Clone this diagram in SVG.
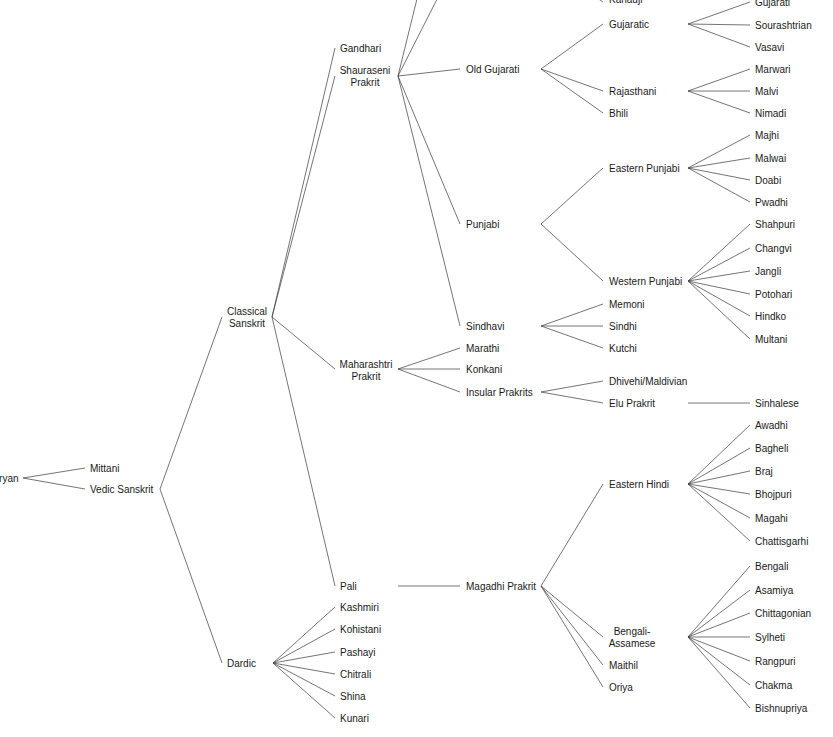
<svg xmlns="http://www.w3.org/2000/svg" width="833" height="737" viewBox="0 0 833 737">
<style>
text{font-family:"Liberation Sans",Arial,sans-serif;font-size:10px;fill:#1a1a1a}
.c text{text-anchor:middle}
#edges path{stroke:#3a3a3a;stroke-width:0.7;fill:none}
</style>
<rect width="833" height="737" fill="#fff"/>
<g id="edges">
<path d="M23 478L85 468M23 478L85 489"/>
<path d="M160 489L222 317M160 489L222 663"/>
<path d="M272 317L335 48M272 317L335 76M272 317L335 369M272 317L335 586"/>
<path d="M273 663L335 607M273 663L335 629M273 663L335 652M273 663L335 674M273 663L335 696M273 663L335 718"/>
<path d="M398 76L460 69M398 76L460 224M398 76L460 326M398 76L460 -176M398 76L460 -46"/>
<path d="M398 369L460 348M398 369L460 369M398 369L460 392"/>
<path d="M398 586L460 586"/>
<path d="M541 69L603 24M541 69L603 91M541 69L603 113M541 -40L603 2"/>
<path d="M541 224L603 168M541 224L603 281"/>
<path d="M541 326L603 304M541 326L603 326M541 326L603 348"/>
<path d="M541 392L603 381M541 392L603 403"/>
<path d="M541 586L603 484M541 586L603 637M541 586L603 665M541 586L603 687"/>
<path d="M688 24L750 2M688 24L750 25M688 24L750 47"/>
<path d="M688 91L750 69M688 91L750 91M688 91L750 113"/>
<path d="M688 168L750 135M688 168L750 158M688 168L750 180M688 168L750 202"/>
<path d="M688 281L750 224M688 281L750 248M688 281L750 271M688 281L750 294M688 281L750 316M688 281L750 339"/>
<path d="M688 403L750 403"/>
<path d="M688 484L750 425M688 484L750 448M688 484L750 471M688 484L750 494M688 484L750 518M688 484L750 541"/>
<path d="M688 637L750 566M688 637L750 590M688 637L750 613M688 637L750 637M688 637L750 661M688 637L750 685M688 637L750 708"/>
</g>
<g id="n-aryan"><text x="18.5" y="482" text-anchor="end">ryan</text></g>
<g id="n-mittani"><text x="90" y="472">Mittani</text></g>
<g id="n-vedic"><text x="90" y="493">Vedic Sanskrit</text></g>
<g id="n-classical" class="c"><text x="247" y="315">Classical</text><text x="247" y="327">Sanskrit</text></g>
<g id="n-dardic"><text x="227" y="667">Dardic</text></g>
<g id="n-gandhari"><text x="340" y="52">Gandhari</text></g>
<g id="n-shauraseni" class="c"><text x="365" y="74">Shauraseni</text><text x="365" y="86">Prakrit</text></g>
<g id="n-maharashtri" class="c"><text x="366" y="368">Maharashtri</text><text x="366" y="380">Prakrit</text></g>
<g id="n-pali"><text x="340" y="590">Pali</text></g>
<g id="n-kashmiri"><text x="340" y="611">Kashmiri</text></g>
<g id="n-kohistani"><text x="340" y="633">Kohistani</text></g>
<g id="n-pashayi"><text x="340" y="656">Pashayi</text></g>
<g id="n-chitrali"><text x="340" y="678">Chitrali</text></g>
<g id="n-shina"><text x="340" y="700">Shina</text></g>
<g id="n-kunari"><text x="340" y="722">Kunari</text></g>
<g id="n-oldgujarati"><text x="466" y="73">Old Gujarati</text></g>
<g id="n-punjabi"><text x="466" y="228">Punjabi</text></g>
<g id="n-sindhavi"><text x="466" y="330">Sindhavi</text></g>
<g id="n-marathi"><text x="466" y="352">Marathi</text></g>
<g id="n-konkani"><text x="466" y="373">Konkani</text></g>
<g id="n-insular"><text x="466" y="396">Insular Prakrits</text></g>
<g id="n-magadhi"><text x="466" y="590">Magadhi Prakrit</text></g>
<g id="n-kanauji"><text x="609" y="3">Kanauji</text></g>
<g id="n-gujaratic"><text x="609" y="28">Gujaratic</text></g>
<g id="n-rajasthani"><text x="609" y="95">Rajasthani</text></g>
<g id="n-bhili"><text x="609" y="117">Bhili</text></g>
<g id="n-eastpunjabi"><text x="609" y="172">Eastern Punjabi</text></g>
<g id="n-westpunjabi"><text x="609" y="285">Western Punjabi</text></g>
<g id="n-memoni"><text x="609" y="308">Memoni</text></g>
<g id="n-sindhi"><text x="609" y="330">Sindhi</text></g>
<g id="n-kutchi"><text x="609" y="352">Kutchi</text></g>
<g id="n-dhivehi"><text x="609" y="385">Dhivehi/Maldivian</text></g>
<g id="n-elu"><text x="609" y="407">Elu Prakrit</text></g>
<g id="n-easthindi"><text x="609" y="488">Eastern Hindi</text></g>
<g id="n-bengaliassamese" class="c"><text x="632" y="635">Bengali-</text><text x="632" y="647">Assamese</text></g>
<g id="n-maithil"><text x="609" y="669">Maithil</text></g>
<g id="n-oriya"><text x="609" y="691">Oriya</text></g>
<g id="n-gujarati"><text x="755" y="6">Gujarati</text></g>
<g id="n-sourashtrian"><text x="755" y="29">Sourashtrian</text></g>
<g id="n-vasavi"><text x="755" y="51">Vasavi</text></g>
<g id="n-marwari"><text x="755" y="73">Marwari</text></g>
<g id="n-malvi"><text x="755" y="95">Malvi</text></g>
<g id="n-nimadi"><text x="755" y="117">Nimadi</text></g>
<g id="n-majhi"><text x="755" y="139">Majhi</text></g>
<g id="n-malwai"><text x="755" y="162">Malwai</text></g>
<g id="n-doabi"><text x="755" y="184">Doabi</text></g>
<g id="n-pwadhi"><text x="755" y="206">Pwadhi</text></g>
<g id="n-shahpuri"><text x="755" y="228">Shahpuri</text></g>
<g id="n-changvi"><text x="755" y="252">Changvi</text></g>
<g id="n-jangli"><text x="755" y="275">Jangli</text></g>
<g id="n-potohari"><text x="755" y="298">Potohari</text></g>
<g id="n-hindko"><text x="755" y="320">Hindko</text></g>
<g id="n-multani"><text x="755" y="343">Multani</text></g>
<g id="n-sinhalese"><text x="755" y="407">Sinhalese</text></g>
<g id="n-awadhi"><text x="755" y="429">Awadhi</text></g>
<g id="n-bagheli"><text x="755" y="452">Bagheli</text></g>
<g id="n-braj"><text x="755" y="475">Braj</text></g>
<g id="n-bhojpuri"><text x="755" y="498">Bhojpuri</text></g>
<g id="n-magahi"><text x="755" y="522">Magahi</text></g>
<g id="n-chattisgarhi"><text x="755" y="545">Chattisgarhi</text></g>
<g id="n-bengali"><text x="755" y="570">Bengali</text></g>
<g id="n-asamiya"><text x="755" y="594">Asamiya</text></g>
<g id="n-chittagonian"><text x="755" y="617">Chittagonian</text></g>
<g id="n-sylheti"><text x="755" y="641">Sylheti</text></g>
<g id="n-rangpuri"><text x="755" y="665">Rangpuri</text></g>
<g id="n-chakma"><text x="755" y="689">Chakma</text></g>
<g id="n-bishnupriya"><text x="755" y="712">Bishnupriya</text></g>
</svg>
